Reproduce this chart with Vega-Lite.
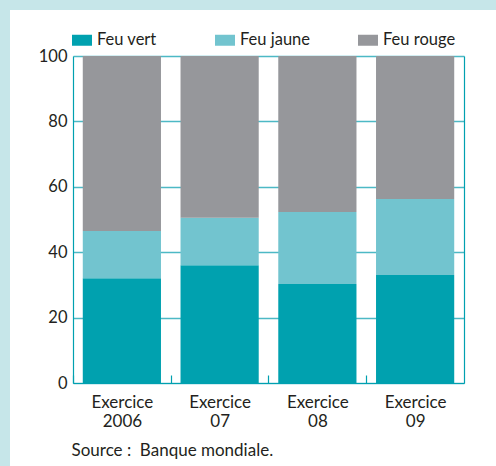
{
  "$schema": "https://vega.github.io/schema/vega-lite/v6.json",
  "width": 486,
  "height": 456,
  "autosize": {"type": "none"},
  "padding": {"left": 10, "top": 10, "right": 0, "bottom": 0},
  "background": "#c6e6e9",
  "config": {
    "view": {"fill": "white", "stroke": null},
    "font": "Lato",
    "axis": {"labelFont": "Lato", "titleFont": "Lato", "labelColor": "#231f20", "titleColor": "#231f20"}
  },
  "data": {
    "values": [
      {"exercice": "Exercice 2006", "feu": "Feu vert", "ordre": 1, "valeur": 32},
      {"exercice": "Exercice 2006", "feu": "Feu jaune", "ordre": 2, "valeur": 14.5},
      {"exercice": "Exercice 2006", "feu": "Feu rouge", "ordre": 3, "valeur": 53.5},
      {"exercice": "Exercice 07", "feu": "Feu vert", "ordre": 1, "valeur": 36},
      {"exercice": "Exercice 07", "feu": "Feu jaune", "ordre": 2, "valeur": 14.5},
      {"exercice": "Exercice 07", "feu": "Feu rouge", "ordre": 3, "valeur": 49.5},
      {"exercice": "Exercice 08", "feu": "Feu vert", "ordre": 1, "valeur": 30.3},
      {"exercice": "Exercice 08", "feu": "Feu jaune", "ordre": 2, "valeur": 22},
      {"exercice": "Exercice 08", "feu": "Feu rouge", "ordre": 3, "valeur": 47.7},
      {"exercice": "Exercice 09", "feu": "Feu vert", "ordre": 1, "valeur": 33},
      {"exercice": "Exercice 09", "feu": "Feu jaune", "ordre": 2, "valeur": 23.3},
      {"exercice": "Exercice 09", "feu": "Feu rouge", "ordre": 3, "valeur": 43.7}
    ]
  },
  "layer": [
    {
      "mark": {"type": "bar"},
      "encoding": {
        "x": {
          "field": "exercice",
          "type": "nominal",
          "sort": null,
          "scale": {"range": [63, 454], "paddingInner": 0.2, "paddingOuter": 0.1},
          "axis": {
            "orient": "bottom",
            "offset": -83,
            "title": "Source :\u00a0 Banque mondiale.",
            "titleFontSize": 17,
            "titleFontWeight": "normal",
            "titleAnchor": "start",
            "titleAlign": "left",
            "titleBaseline": "alphabetic",
            "titleX": 61,
            "titleY": 72,
            "labelAngle": 0,
            "labelExpr": "split(datum.label, ' ')",
            "labelFontSize": 17,
            "labelLineHeight": 19,
            "labelBaseline": "alphabetic",
            "labelPadding": 32,
            "labelOffset": 49,
            "domainColor": "#00a0b0",
            "domainWidth": 1.2,
            "ticks": true,
            "tickColor": "#00a0b0",
            "tickSize": -8,
            "tickOffset": -49,
            "tickWidth": 1.2,
            "grid": false
          }
        },
        "y": {
          "field": "valeur",
          "type": "quantitative",
          "stack": "zero",
          "scale": {"domain": [0, 100], "range": [373, 46], "nice": false},
          "axis": {
            "orient": "left",
            "offset": -63,
            "title": null,
            "values": [0, 20, 40, 60, 80, 100],
            "labelFontSize": 16.5,
            "labelPadding": 6,
            "ticks": false,
            "domainColor": "#00a0b0",
            "domainWidth": 1.2,
            "grid": true,
            "gridColor": "#4db9c5",
            "gridWidth": 1.3
          }
        },
        "color": {
          "field": "feu",
          "type": "nominal",
          "scale": {"domain": ["Feu vert", "Feu jaune", "Feu rouge"], "range": ["#00a1af", "#72c4cf", "#96979b"]},
          "legend": {
            "orient": "none",
            "legendX": 62,
            "legendY": 20,
            "direction": "horizontal",
            "columns": 3,
            "gridAlign": "all",
            "columnPadding": 45,
            "title": null,
            "symbolType": "M-1,-0.55H1V0.55H-1Z",
            "symbolSize": 400,
            "symbolStrokeWidth": 0,
            "symbolOpacity": 1,
            "labelFont": "Lato",
            "labelFontSize": 16.5,
            "labelColor": "#231f20",
            "labelOffset": 5
          }
        },
        "order": {"field": "ordre", "type": "quantitative"}
      }
    },
    {
      "mark": {"type": "point", "opacity": 0},
      "encoding": {
        "y": {
          "field": "valeur",
          "type": "quantitative",
          "scale": {"domain": [0, 100], "range": [373, 46], "nice": false},
          "axis": {
            "orient": "right",
            "offset": -32,
            "title": null,
            "labels": false,
            "ticks": false,
            "grid": false,
            "domainColor": "#00a0b0",
            "domainWidth": 1.2
          }
        }
      }
    }
  ],
  "resolve": {"scale": {"y": "independent"}, "axis": {"y": "independent"}}
}
